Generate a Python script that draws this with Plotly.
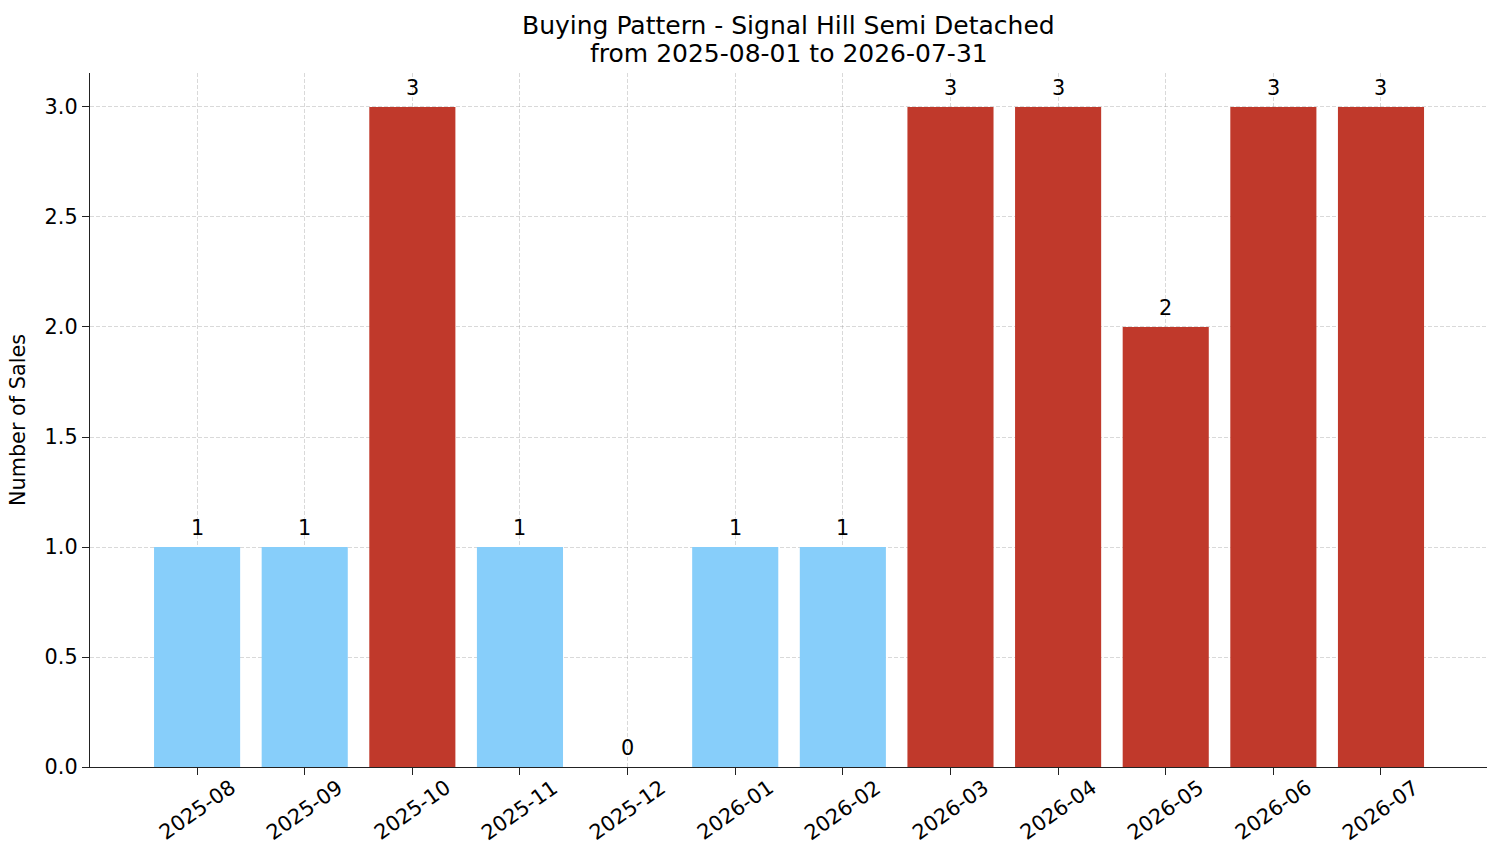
import plotly.graph_objects as go

months = ["2025-08", "2025-09", "2025-10", "2025-11", "2025-12", "2026-01",
          "2026-02", "2026-03", "2026-04", "2026-05", "2026-06", "2026-07"]
sales = [1, 1, 3, 1, 0, 1, 1, 3, 3, 2, 3, 3]
threshold = 2

LIGHT = "#87CEFA"
RED = "#C0392B"
colors = [RED if v >= threshold else LIGHT for v in sales]
FONT = "DejaVu Sans"
TS = 20.8

fig = go.Figure()
fig.add_trace(go.Bar(
    x=list(range(len(months))), y=sales, width=0.8,
    marker=dict(color=colors, line=dict(width=0)),
    hoverinfo="skip",
))

for i, v in enumerate(sales):
    fig.add_annotation(x=i, y=v, text=str(v), showarrow=False,
                       yanchor="bottom", yshift=5,
                       font=dict(family=FONT, size=TS, color="#000"))

# rotated month labels, centred under each tick
for i, m in enumerate(months):
    fig.add_annotation(x=i, y=0, yref="paper", text=m, showarrow=False,
                       textangle=-35, xanchor="center", yanchor="middle",
                       yshift=-43,
                       font=dict(family=FONT, size=TS, color="#000"))

# two-line title, placed line by line to match spacing
title_lines = ["Buying Pattern - Signal Hill Semi Detached", "from 2025-08-01 to 2026-07-31"]
for line, shift in zip(title_lines, [48, 20]):
    fig.add_annotation(x=0.5, xref="paper", y=1, yref="paper", text=line,
                       showarrow=False, xanchor="center", yanchor="middle",
                       yshift=shift, font=dict(family=FONT, size=25, color="#000"))

fig.update_layout(
    width=1501, height=863,
    margin=dict(l=90, r=14, t=73, b=96),
    paper_bgcolor="white", plot_bgcolor="white",
    showlegend=False,
    font=dict(family=FONT, size=TS, color="#000"),
)
GRID = "rgba(160,160,160,0.4)"
fig.update_xaxes(
    range=[-0.995, 11.985], tickmode="array",
    tickvals=list(range(len(months))), ticktext=[""] * len(months),
    ticks="outside", ticklen=7, tickwidth=1.3, tickcolor="#222",
    showline=True, linecolor="#222", linewidth=1.3,
    showgrid=True, gridcolor=GRID, griddash="4px,2px", gridwidth=1,
    zeroline=False, layer="above traces",
)
fig.update_yaxes(
    range=[0, 3.1545], tickmode="array",
    tickvals=[0, 0.5, 1.0, 1.5, 2.0, 2.5, 3.0],
    ticktext=["0.0", "0.5", "1.0", "1.5", "2.0", "2.5", "3.0"],
    ticks="outside", ticklen=7, tickwidth=1.3, tickcolor="#222",
    showline=True, linecolor="#222", linewidth=1.3,
    showgrid=True, gridcolor=GRID, griddash="4px,2px", gridwidth=1,
    zeroline=False, layer="above traces",
    title=dict(text="Number of Sales", standoff=13, font=dict(family=FONT, size=TS, color="#000")),
    tickfont=dict(family=FONT, size=TS, color="#000"),
)

fig.write_html("out.html", config={"displayModeBar": False},
               post_script="document.body.style.margin='0';document.body.style.overflow='hidden';")
